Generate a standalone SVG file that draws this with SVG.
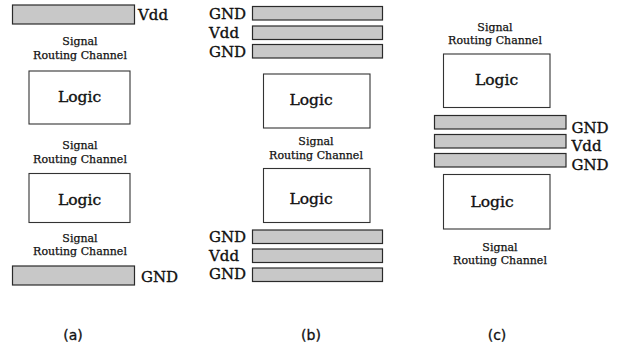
<svg xmlns="http://www.w3.org/2000/svg" width="621" height="347" viewBox="0 0 621 347">
  <style>
    .rail { fill: #c8c8c8; stroke: #2a2a2a; stroke-width: 1.2; }
    .logic { fill: #ffffff; stroke: #333333; stroke-width: 1.1; }
    .lbl { font-family: "DejaVu Serif", "Liberation Serif", serif; fill: #111111; stroke: #111111; stroke-width: 0.35; }
    .rail-t { font-size: 15px; }
    .logic-t { font-size: 15.5px; text-anchor: middle; }
    .chan-t { font-size: 11px; text-anchor: middle; stroke-width: 0.25; }
    .cap { font-family: "DejaVu Sans", "Liberation Sans", sans-serif; font-size: 14px; text-anchor: middle; fill: #111111; stroke: #111111; stroke-width: 0.3; }
  </style>
  <rect width="621" height="347" fill="#ffffff"/>

  <!-- (a) rails at the top and bottom of the block -->
  <g id="a-vdd">
    <rect class="rail" x="12.5" y="5" width="122" height="19"/>
    <text class="lbl rail-t" x="138" y="20">Vdd</text>
  </g>
  <g id="a-chan1">
    <text class="lbl chan-t" x="80" y="45">Signal</text>
    <text class="lbl chan-t" x="80" y="59">Routing Channel</text>
  </g>
  <g id="a-logic1">
    <rect class="logic" x="29" y="71" width="101" height="53"/>
    <text class="lbl logic-t" x="79.5" y="102">Logic</text>
  </g>
  <g id="a-chan2">
    <text class="lbl chan-t" x="80" y="149">Signal</text>
    <text class="lbl chan-t" x="80" y="163">Routing Channel</text>
  </g>
  <g id="a-logic2">
    <rect class="logic" x="29" y="173.5" width="101" height="49"/>
    <text class="lbl logic-t" x="79.5" y="205">Logic</text>
  </g>
  <g id="a-chan3">
    <text class="lbl chan-t" x="80" y="242">Signal</text>
    <text class="lbl chan-t" x="80" y="255">Routing Channel</text>
  </g>
  <g id="a-gnd">
    <rect class="rail" x="12.5" y="266" width="122" height="19"/>
    <text class="lbl rail-t" x="141" y="282">GND</text>
  </g>
  <text class="cap" x="73" y="340">(a)</text>

  <!-- (b) triple rails above and below -->
  <g id="b-top-rails">
    <rect class="rail" x="252.5" y="6.5" width="130" height="13.5"/>
    <rect class="rail" x="252.5" y="26" width="130" height="13.5"/>
    <rect class="rail" x="252.5" y="44.5" width="130" height="13.5"/>
    <text class="lbl rail-t" x="209" y="19">GND</text>
    <text class="lbl rail-t" x="209" y="38">Vdd</text>
    <text class="lbl rail-t" x="209" y="56.5">GND</text>
  </g>
  <g id="b-logic1">
    <rect class="logic" x="263.5" y="74" width="106.5" height="54"/>
    <text class="lbl logic-t" x="311" y="105">Logic</text>
  </g>
  <g id="b-chan">
    <text class="lbl chan-t" x="316" y="145">Signal</text>
    <text class="lbl chan-t" x="316" y="159">Routing Channel</text>
  </g>
  <g id="b-logic2">
    <rect class="logic" x="263.5" y="168.5" width="106.5" height="54"/>
    <text class="lbl logic-t" x="311" y="204">Logic</text>
  </g>
  <g id="b-bottom-rails">
    <rect class="rail" x="252.5" y="230" width="130" height="13.5"/>
    <rect class="rail" x="252.5" y="249" width="130" height="13.5"/>
    <rect class="rail" x="252.5" y="268" width="130" height="13.5"/>
    <text class="lbl rail-t" x="209" y="242">GND</text>
    <text class="lbl rail-t" x="209" y="260.5">Vdd</text>
    <text class="lbl rail-t" x="209" y="279">GND</text>
  </g>
  <text class="cap" x="311" y="340">(b)</text>

  <!-- (c) triple rails between the logic blocks -->
  <g id="c-chan1">
    <text class="lbl chan-t" x="495" y="30.5">Signal</text>
    <text class="lbl chan-t" x="495" y="44">Routing Channel</text>
  </g>
  <g id="c-logic1">
    <rect class="logic" x="443.5" y="54" width="106.5" height="53.5"/>
    <text class="lbl logic-t" x="496.5" y="85">Logic</text>
  </g>
  <g id="c-rails">
    <rect class="rail" x="434.5" y="115.5" width="131.5" height="13.5"/>
    <rect class="rail" x="434.5" y="134.5" width="131.5" height="13.5"/>
    <rect class="rail" x="434.5" y="153.5" width="131.5" height="13.5"/>
    <text class="lbl rail-t" x="571.5" y="132.5">GND</text>
    <text class="lbl rail-t" x="571.5" y="151">Vdd</text>
    <text class="lbl rail-t" x="571.5" y="169.5">GND</text>
  </g>
  <g id="c-logic2">
    <rect class="logic" x="443.5" y="174.5" width="106.5" height="54.5"/>
    <text class="lbl logic-t" x="492" y="206.5">Logic</text>
  </g>
  <g id="c-chan2">
    <text class="lbl chan-t" x="500" y="250.5">Signal</text>
    <text class="lbl chan-t" x="500" y="264">Routing Channel</text>
  </g>
  <text class="cap" x="497" y="340">(c)</text>
</svg>
